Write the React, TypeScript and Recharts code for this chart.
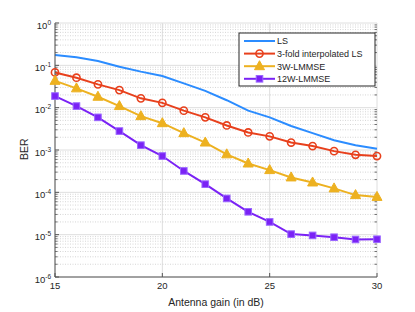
import React from 'react'
import { LineChart, Line, XAxis, YAxis, CartesianGrid, ReferenceLine } from 'recharts'

// antenna gain (dB)
const gains = [15, 16, 17, 18, 19, 20, 21, 22, 23, 24, 25, 26, 27, 28, 29, 30]

const ls = [0.175, 0.155, 0.126, 0.093, 0.071, 0.056, 0.0375, 0.025, 0.015, 0.0085, 0.0059, 0.0037, 0.0025, 0.0017, 0.0013, 0.00107]
const interp3 = [0.068, 0.051, 0.0355, 0.026, 0.0166, 0.013, 0.0085, 0.0059, 0.0038, 0.0026, 0.0021, 0.0015, 0.00124, 0.00094, 0.00077, 0.00072]
const lmmse3w = [0.043, 0.0286, 0.0181, 0.0109, 0.0063, 0.0043, 0.0025, 0.0015, 0.00079, 0.00048, 0.000335, 0.000225, 0.000171, 0.000124, 0.000086, 0.000078]
const lmmse12w = [0.0188, 0.0109, 0.0059, 0.0028, 0.0013, 0.00072, 0.00032, 0.000156, 0.0000717, 0.0000347, 0.00002, 0.0000103, 0.0000096, 0.0000087, 0.0000077, 0.0000078]

const seriesNames = ['LS', '3-fold interpolated LS', '3W-LMMSE', '12W-LMMSE']
const seriesKeys = ['ls', 'interp3', 'lmmse3w', 'lmmse12w']
const seriesColors = ['#2b8cff', '#e8401c', '#edb120', '#7a22f5']

const xTicks = [15, 20, 25, 30]
const yTicks = [1e-6, 1e-5, 1e-4, 1e-3, 1e-2, 1e-1, 1]

const data = gains.map((g, i) => ({
	gain: g,
	ls: ls[i],
	interp3: interp3[i],
	lmmse3w: lmmse3w[i],
	lmmse12w: lmmse12w[i]
}))

// minor grid values 2..9 x 10^k
const minorY: number[] = []
for (let e = -6; e < 0; e++) {
	for (let m = 2; m <= 9; m++) minorY.push(m * Math.pow(10, e))
}

const FONT = 'Liberation Sans, Arial, sans-serif'
const TXT = '#262626'
const AXIS = '#555'

const YTick = (props: any) => {
	const { x, y, payload } = props
	const exp = Math.round(Math.log10(payload.value))
	return (
		<text x={x} y={y + 5.5} textAnchor="end" fontSize={9.5} fill={TXT} fontFamily={FONT}>
			<tspan>10</tspan>
			<tspan dy={-4} fontSize={6.5}>{exp}</tspan>
		</text>
	)
}

const XTick = (props: any) => {
	const { x, y, payload } = props
	return (
		<text x={x} y={y + 8} textAnchor="middle" fontSize={9.5} fill={TXT} fontFamily={FONT}>
			{payload.value}
		</text>
	)
}

const Blank = () => <g />

const Circle = (props: any) => {
	const { cx, cy, index } = props
	return <circle key={'c' + index} cx={cx} cy={cy} r={3.6} fill="none" stroke={seriesColors[1]} strokeWidth={1.6} />
}

const Tri = (props: any) => {
	const { cx, cy, index } = props
	return <polygon key={'t' + index} points={`${cx},${cy - 5.5} ${cx - 5},${cy + 3.5} ${cx + 5},${cy + 3.5}`} fill={seriesColors[2]} stroke={seriesColors[2]} strokeWidth={1} />
}

const Sq = (props: any) => {
	const { cx, cy, index } = props
	return <rect key={'s' + index} x={cx - 3.3} y={cy - 3.3} width={6.6} height={6.6} fill={seriesColors[3]} stroke="#9a66ff" strokeWidth={1} />
}

const markers = [null, Circle, Tri, Sq]

function LegendBox() {
	return (
		<svg width={140} height={56} style={{ position: 'absolute', left: 238, top: 32 }}>
			<rect x={1} y={1} width={136} height={53} fill="#fff" stroke={TXT} strokeWidth={1} />
			{seriesNames.map((name, i) => {
				const y = 9 + i * 12.6
				const M = markers[i]
				return (
					<g key={name}>
						<line x1={6} x2={37} y1={y} y2={y} stroke={seriesColors[i]} strokeWidth={2} />
						{M ? <M cx={21.5} cy={y} index={100 + i} /> : null}
						<text x={39} y={y + 3.3} fontSize={9} fill={TXT} fontFamily={FONT}>{name}</text>
					</g>
				)
			})}
		</svg>
	)
}

export default function App() {
	return (
		<div style={{ position: 'absolute', left: 0, top: 0, width: 415, height: 312, background: '#fff' }}>
			<LineChart width={415} height={312} data={data} margin={{ top: 23, right: 38, left: 8, bottom: 0 }}>
				<CartesianGrid stroke="#dedede" strokeWidth={1} />
				{minorY.map((v) => (
					<ReferenceLine key={'m' + v} y={v} stroke="#cccccc" strokeDasharray="1 1.5" strokeWidth={0.8} />
				))}
				{minorY.map((v) => (
					<ReferenceLine key={'tl' + v} segment={[{ x: 15, y: v }, { x: 15.12, y: v }]} stroke={AXIS} strokeWidth={0.8} />
				))}
				{minorY.map((v) => (
					<ReferenceLine key={'tr' + v} segment={[{ x: 29.88, y: v }, { x: 30, y: v }]} stroke={AXIS} strokeWidth={0.8} />
				))}
				<XAxis
					dataKey="gain"
					type="number"
					domain={[15, 30]}
					ticks={xTicks}
					height={35}
					tick={<XTick />}
					tickSize={-4}
					tickMargin={8}
					axisLine={{ stroke: AXIS }}
					tickLine={{ stroke: AXIS }}
					label={{ value: 'Antenna gain (in dB)', position: 'insideBottom', offset: 6, fontSize: 10.5, fill: TXT, fontFamily: FONT }}
				/>
				<XAxis
					xAxisId="top"
					orientation="top"
					dataKey="gain"
					type="number"
					domain={[15, 30]}
					ticks={xTicks}
					height={0}
					tick={<Blank />}
					tickSize={-4}
					axisLine={{ stroke: AXIS }}
					tickLine={{ stroke: AXIS }}
				/>
				<YAxis
					scale="log"
					domain={[1e-6, 1]}
					ticks={yTicks}
					allowDataOverflow
					width={47}
					tick={<YTick />}
					tickSize={-4}
					tickMargin={8}
					axisLine={{ stroke: AXIS }}
					tickLine={{ stroke: AXIS }}
					label={{ value: 'BER', angle: -90, position: 'insideLeft', offset: 16, fontSize: 10.5, fill: TXT, fontFamily: FONT, dy: 10 }}
				/>
				<YAxis
					yAxisId="r"
					orientation="right"
					scale="log"
					domain={[1e-6, 1]}
					ticks={yTicks}
					allowDataOverflow
					width={0}
					tick={<Blank />}
					tickSize={-4}
					axisLine={{ stroke: AXIS }}
					tickLine={{ stroke: AXIS }}
				/>
				{seriesKeys.map((k, i) => (
					<Line
						key={k}
						dataKey={k}
						name={seriesNames[i]}
						stroke={seriesColors[i]}
						strokeWidth={2}
						dot={markers[i] ? markers[i] : false}
						activeDot={false}
						isAnimationActive={false}
					/>
				))}
			</LineChart>
			<LegendBox />
		</div>
	)
}
